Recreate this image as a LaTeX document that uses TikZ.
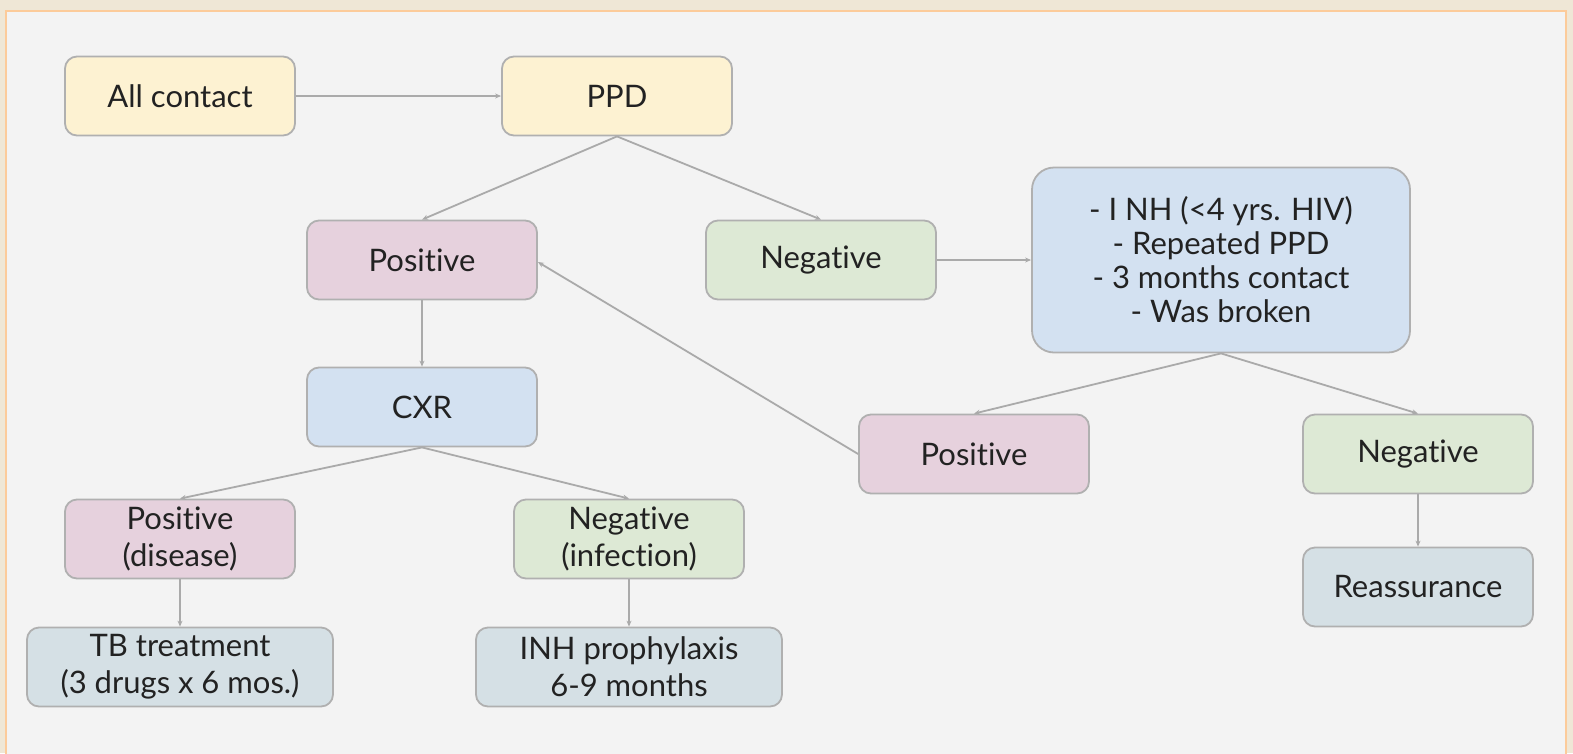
\documentclass[tikz,border=0pt]{standalone}
\usepackage{fontspec}
\setmainfont{Lato}[Ligatures={NoCommon}]
\usetikzlibrary{arrows.meta}
\definecolor{outerbg}{HTML}{EFE7D6}
\definecolor{innerbg}{HTML}{F3F3F3}
\definecolor{framec}{HTML}{FCCB9A}
\definecolor{cyellow}{HTML}{FDF2D2}
\definecolor{cpink}{HTML}{E6D1DD}
\definecolor{cgreen}{HTML}{DDE9D5}
\definecolor{cblue}{HTML}{D3E1F1}
\definecolor{cslate}{HTML}{D5E0E5}
\definecolor{edgec}{HTML}{B0B0B0}
\definecolor{linec}{HTML}{AAAAAA}
\definecolor{textc}{HTML}{222222}
\tikzset{
  box/.style={draw=edgec, line width=1.8pt, rounded corners=12pt, align=center,
    minimum width=230pt, minimum height=79pt, inner sep=0pt, text=textc,
    font=\fontsize{31}{34}\selectfont},
  twoline/.style={font=\fontsize{31}{37}\selectfont},
  conn/.style={draw=linec, line width=1.8pt, -{Stealth[length=6pt,width=5pt]}},
}
\begin{document}
\begin{tikzpicture}[x=1pt,y=-1pt]
\useasboundingbox (0,0) rectangle (1573,753);
\begin{scope}
\clip (0,0) rectangle (1573,753);
\fill[outerbg] (0,0) rectangle (1573,753);
\draw[framec, line width=2.5pt, fill=innerbg] (6,11) rectangle (1566,770);
\end{scope}

\node[box, fill=cyellow] (all) at (180,96) {All contact};
\node[box, fill=cyellow] (ppd) at (617,96) {PPD};
\node[box, fill=cpink] (pos) at (422,260) {Positive};
\node[box, fill=cgreen] (neg) at (821,260) {Negative};
\node[box, fill=cblue, minimum width=378pt, minimum height=185pt, rounded corners=22pt] (info) at (1221,260)
  {- I NH (<4 yrs. HIV)\\- Repeated PPD\\- 3 months contact\\- Was broken};
\node[box, fill=cblue] (cxr) at (422,407) {CXR};
\node[box, fill=cpink] (pos2) at (974,454) {Positive};
\node[box, fill=cgreen] (neg2) at (1418,454) {Negative};
\node[box, twoline, fill=cpink] (posd) at (180,539) {Positive\\(disease)};
\node[box, twoline, fill=cgreen] (negi) at (629,539) {Negative\\(infection)};
\node[box, twoline, fill=cslate, minimum width=306pt] (tb) at (180,667) {TB treatment\\(3 drugs x 6 mos.)};
\node[box, twoline, fill=cslate, minimum width=306pt] (inh) at (629,667) {INH prophylaxis\\6-9 months};
\node[box, fill=cslate] (rea) at (1418,587) {Reassurance};

\draw[conn] (all) -- (ppd);
\draw[conn] (ppd.south) -- (pos.north);
\draw[conn] (ppd.south) -- (neg.north);
\draw[conn] (neg) -- (info);
\draw[conn] (info.south) -- (pos2.north);
\draw[conn] (info.south) -- (neg2.north);
\draw[conn] (pos2.west) -- ([yshift=-2pt]pos.east);
\draw[conn] (pos) -- (cxr);
\draw[conn] (cxr.south) -- (posd.north);
\draw[conn] (cxr.south) -- (negi.north);
\draw[conn] (posd) -- (tb);
\draw[conn] (negi) -- (inh);
\draw[conn] (neg2) -- (rea);
\end{tikzpicture}
\end{document}
